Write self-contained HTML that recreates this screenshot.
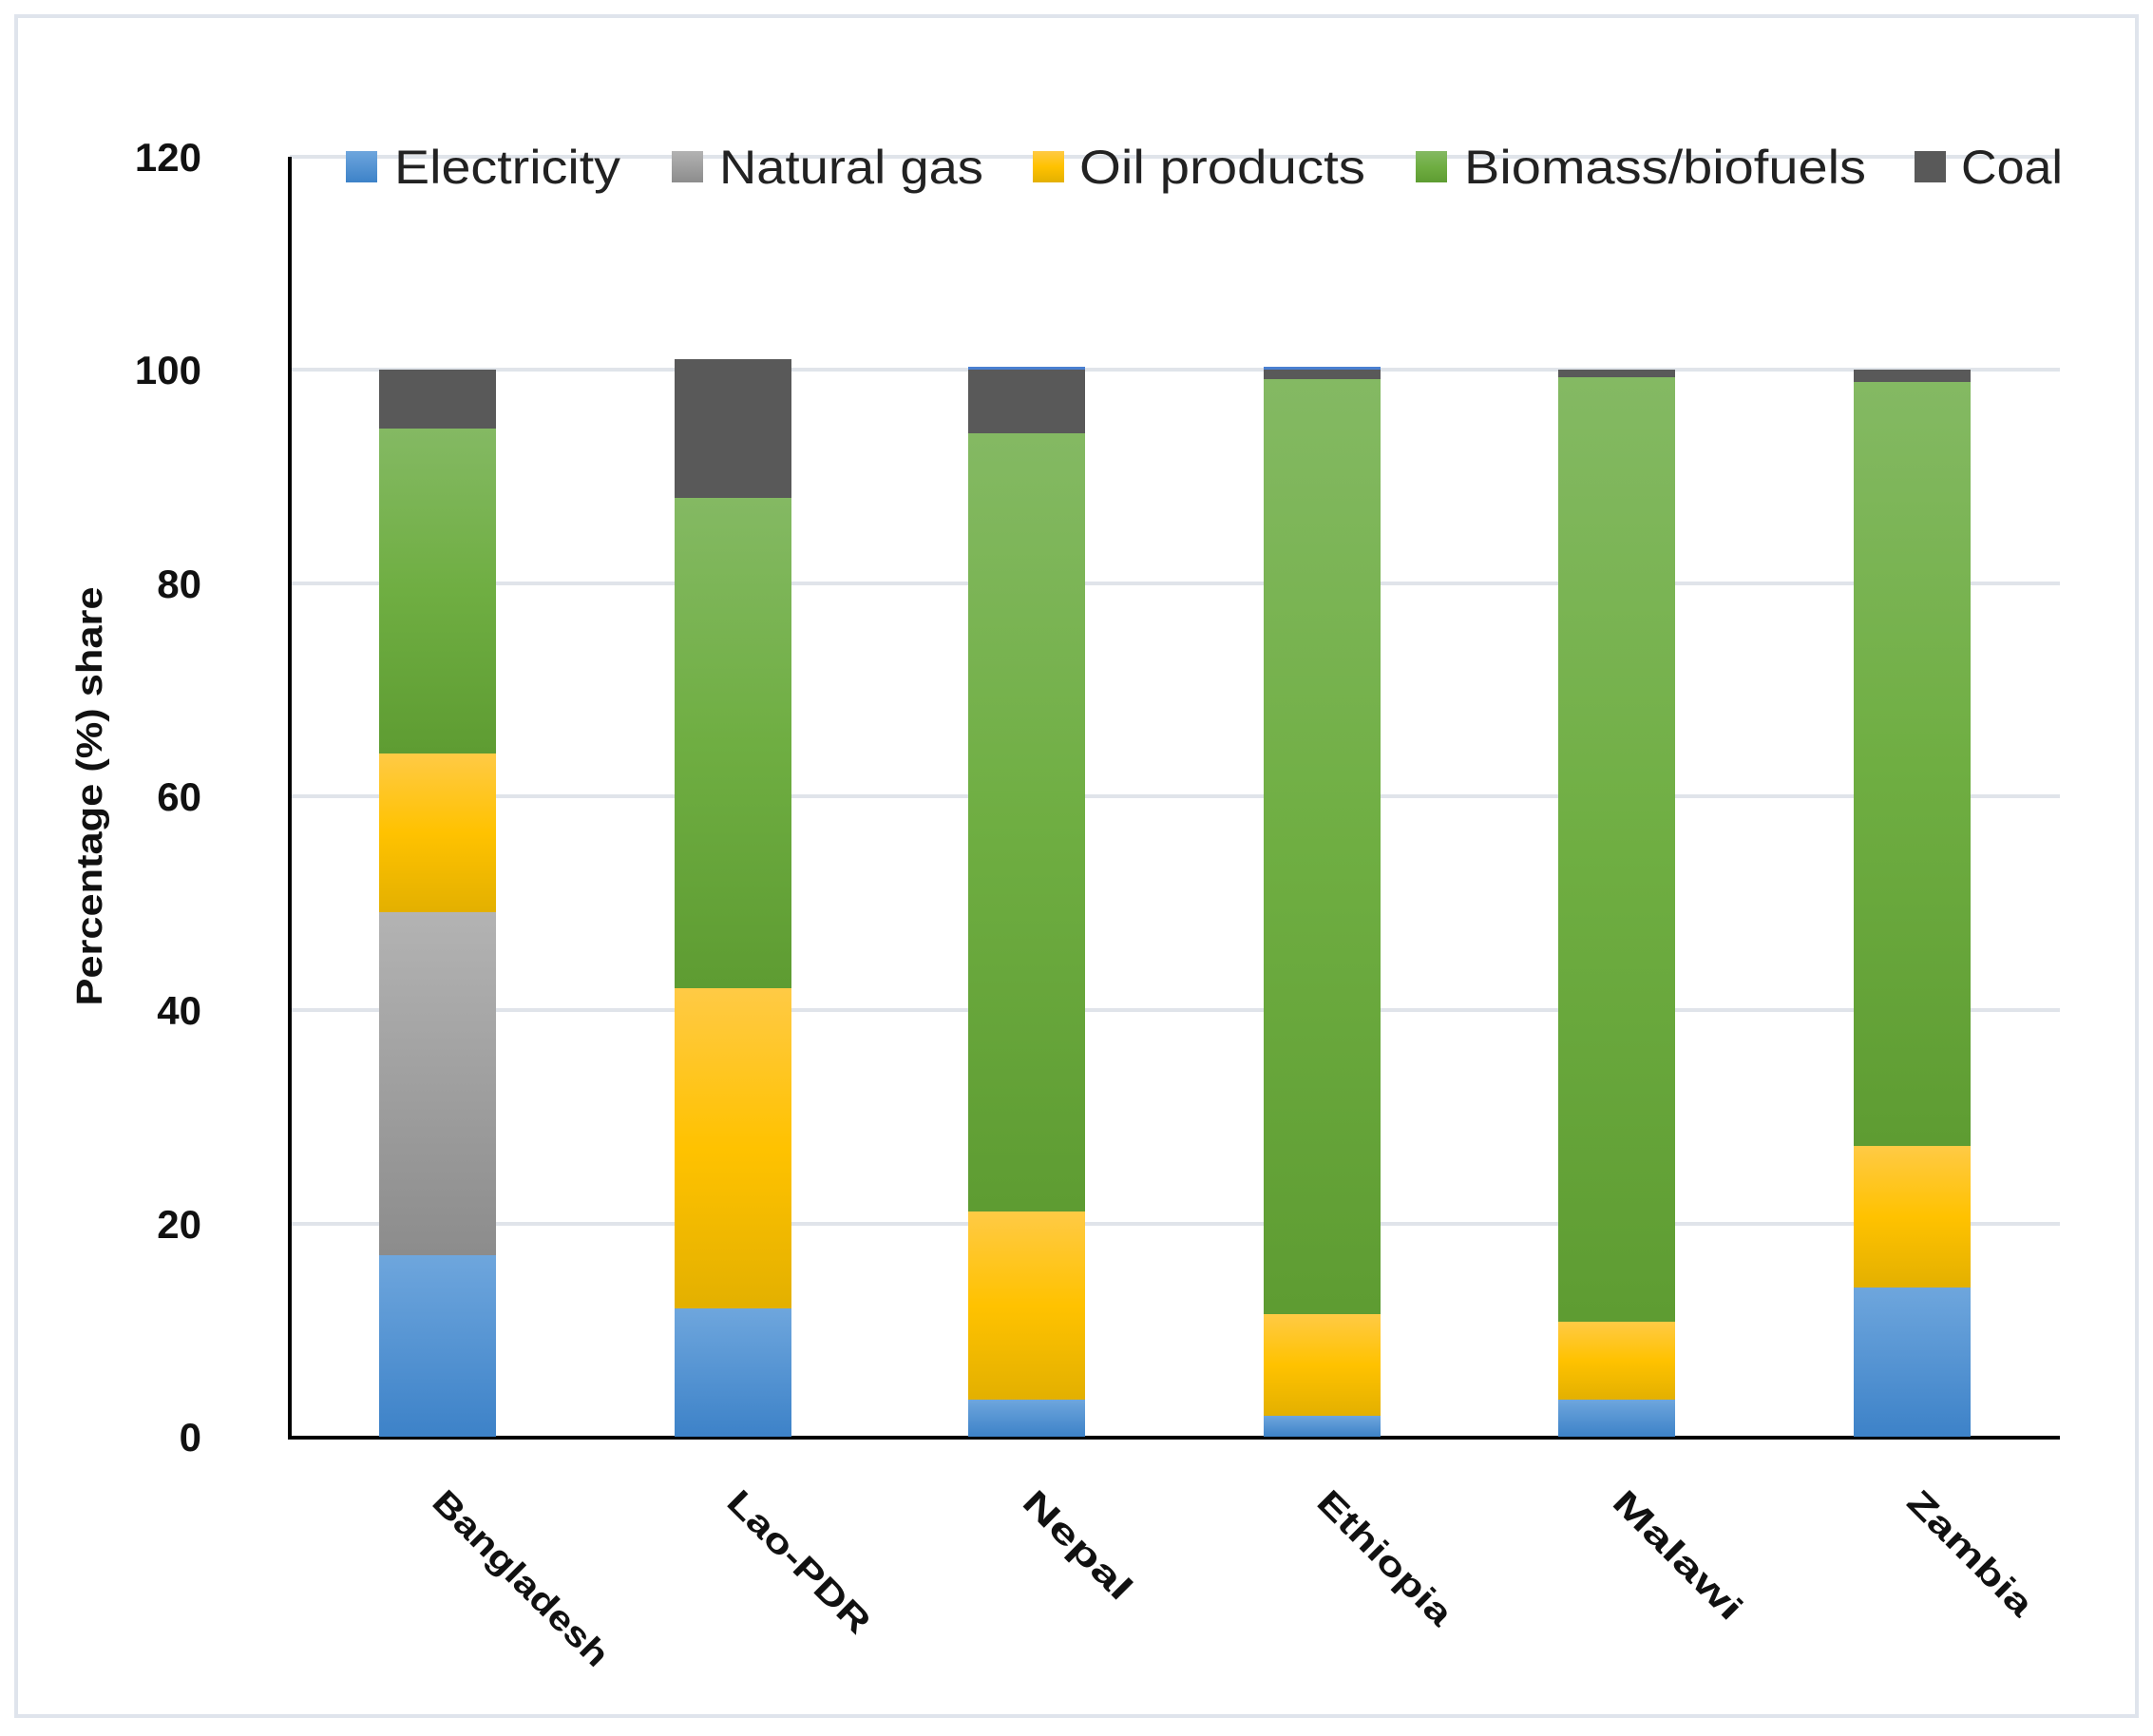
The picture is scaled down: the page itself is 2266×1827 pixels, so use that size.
<!DOCTYPE html>
<html><head><meta charset="utf-8"><style>
html,body{margin:0;padding:0;background:#fff;}
svg{display:block;}
text{font-family:"Liberation Sans",sans-serif;}
</style></head><body>
<svg width="2266" height="1827" viewBox="0 0 2266 1827" xmlns="http://www.w3.org/2000/svg">
<defs>
<linearGradient id="gb" x1="0" y1="0" x2="0" y2="1"><stop offset="0" stop-color="#6ea6dd"/><stop offset="1" stop-color="#3d82c8"/></linearGradient>
<linearGradient id="gg" x1="0" y1="0" x2="0" y2="1"><stop offset="0" stop-color="#b3b3b3"/><stop offset="1" stop-color="#8c8c8c"/></linearGradient>
<linearGradient id="gy" x1="0" y1="0" x2="0" y2="1"><stop offset="0" stop-color="#ffca45"/><stop offset="0.5" stop-color="#ffc200"/><stop offset="1" stop-color="#e3b000"/></linearGradient>
<linearGradient id="gr" x1="0" y1="0" x2="0" y2="1"><stop offset="0" stop-color="#84b963"/><stop offset="0.5" stop-color="#6fae42"/><stop offset="1" stop-color="#5e9c32"/></linearGradient>
</defs>
<rect x="17" y="17" width="2232" height="1789" fill="#fff" stroke="#dfe4ec" stroke-width="4"/>
<g stroke="#e0e4ea" stroke-width="4">
<line x1="305" y1="165" x2="2168" y2="165"/>
<line x1="305" y1="389" x2="2168" y2="389"/>
<line x1="305" y1="614" x2="2168" y2="614"/>
<line x1="305" y1="838" x2="2168" y2="838"/>
<line x1="305" y1="1063" x2="2168" y2="1063"/>
<line x1="305" y1="1288" x2="2168" y2="1288"/>
</g>
<line x1="305" y1="165" x2="305" y2="1514" stroke="#000" stroke-width="4"/>
<line x1="303" y1="1513" x2="2168" y2="1513" stroke="#000" stroke-width="4"/>
<g font-weight="bold" font-size="42" text-anchor="end" fill="#111">
<text x="212" y="180">120</text>
<text x="212" y="404">100</text>
<text x="212" y="629">80</text>
<text x="212" y="853">60</text>
<text x="212" y="1078">40</text>
<text x="212" y="1303">20</text>
<text x="212" y="1527">0</text>
</g>
<text transform="translate(107,838) rotate(-90)" text-anchor="middle" font-weight="bold" font-size="38" fill="#111" textLength="441" lengthAdjust="spacingAndGlyphs">Percentage (%) share</text>
<g font-size="50" fill="#222">
<rect x="364" y="159" width="33" height="33" fill="url(#gb)"/><text x="415" y="193" textLength="238" lengthAdjust="spacingAndGlyphs">Electricity</text>
<rect x="707" y="159" width="33" height="33" fill="url(#gg)"/><text x="757" y="193" textLength="278" lengthAdjust="spacingAndGlyphs">Natural gas</text>
<rect x="1087" y="159" width="33" height="33" fill="url(#gy)"/><text x="1136" y="193" textLength="301" lengthAdjust="spacingAndGlyphs">Oil products</text>
<rect x="1490" y="159" width="33" height="33" fill="url(#gr)"/><text x="1541" y="193" textLength="423" lengthAdjust="spacingAndGlyphs">Biomass/biofuels</text>
<rect x="2015" y="159" width="33" height="33" fill="#595959"/><text x="2064" y="193" textLength="107" lengthAdjust="spacingAndGlyphs">Coal</text>
</g>
<g>
<rect x="399" y="1321" width="123" height="191" fill="url(#gb)"/>
<rect x="399" y="960" width="123" height="361" fill="url(#gg)"/>
<rect x="399" y="793" width="123" height="167" fill="url(#gy)"/>
<rect x="399" y="451" width="123" height="342" fill="url(#gr)"/>
<rect x="399" y="389" width="123" height="62" fill="#595959"/>
<rect x="710" y="1377" width="123" height="135" fill="url(#gb)"/>
<rect x="710" y="1040" width="123" height="337" fill="url(#gy)"/>
<rect x="710" y="524" width="123" height="516" fill="url(#gr)"/>
<rect x="710" y="378" width="123" height="146" fill="#595959"/>
<rect x="1019" y="1473" width="123" height="39" fill="url(#gb)"/>
<rect x="1019" y="1275" width="123" height="198" fill="url(#gy)"/>
<rect x="1019" y="456" width="123" height="819" fill="url(#gr)"/>
<rect x="1019" y="389" width="123" height="67" fill="#595959"/>
<rect x="1019" y="386" width="123" height="3" fill="#4a7fd0"/>
<rect x="1330" y="1490" width="123" height="22" fill="url(#gb)"/>
<rect x="1330" y="1383" width="123" height="107" fill="url(#gy)"/>
<rect x="1330" y="399" width="123" height="984" fill="url(#gr)"/>
<rect x="1330" y="389" width="123" height="10" fill="#595959"/>
<rect x="1330" y="386" width="123" height="3" fill="#4a7fd0"/>
<rect x="1640" y="1473" width="123" height="39" fill="url(#gb)"/>
<rect x="1640" y="1391" width="123" height="82" fill="url(#gy)"/>
<rect x="1640" y="397" width="123" height="994" fill="url(#gr)"/>
<rect x="1640" y="389" width="123" height="8" fill="#595959"/>
<rect x="1951" y="1355" width="123" height="157" fill="url(#gb)"/>
<rect x="1951" y="1206" width="123" height="149" fill="url(#gy)"/>
<rect x="1951" y="402" width="123" height="804" fill="url(#gr)"/>
<rect x="1951" y="389" width="123" height="13" fill="#595959"/>
</g>
<g font-weight="bold" font-size="36" fill="#111">
<text transform="translate(453,1583) rotate(45)" textLength="245" lengthAdjust="spacingAndGlyphs">Bangladesh</text>
<text transform="translate(763,1583) rotate(45)" textLength="196" lengthAdjust="spacingAndGlyphs">Lao-PDR</text>
<text transform="translate(1074,1583) rotate(45)" textLength="146" lengthAdjust="spacingAndGlyphs">Nepal</text>
<text transform="translate(1384,1583) rotate(45)" textLength="184" lengthAdjust="spacingAndGlyphs">Ethiopia</text>
<text transform="translate(1695,1583) rotate(45)" textLength="176" lengthAdjust="spacingAndGlyphs">Malawi</text>
<text transform="translate(2005,1583) rotate(45)" textLength="170" lengthAdjust="spacingAndGlyphs">Zambia</text>
</g>
</svg>
</body></html>
